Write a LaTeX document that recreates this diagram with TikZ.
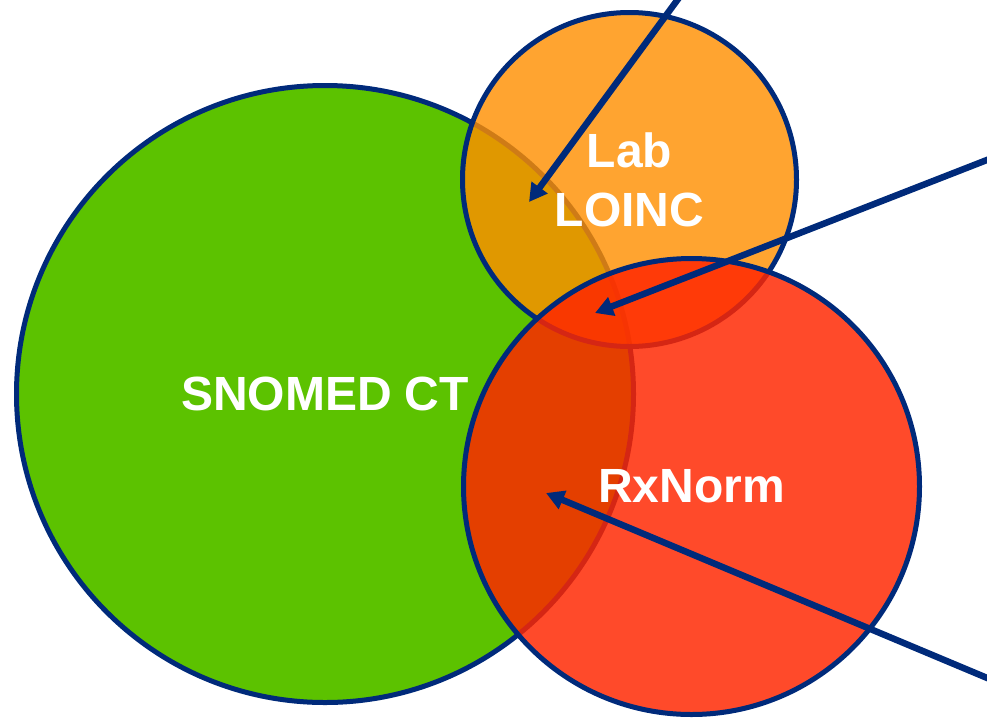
\documentclass[tikz,border=0pt]{standalone}
\usepackage{fontspec}
\setmainfont{Liberation Sans}
\usepackage{tikz}
\usetikzlibrary{positioning,arrows.meta}

\definecolor{navy}{RGB}{0,42,122}
\definecolor{snomedgreen}{RGB}{92,194,0}
\definecolor{loincorange}{RGB}{255,143,0}
\definecolor{rxred}{RGB}{255,38,0}

\tikzset{
	venn/.style={draw=navy, circle, line width=5pt, inner sep=0pt, text=white, text opacity=1, align=center, font=\fontsize{48}{59}\selectfont\bfseries},
	pointer/.style={draw=navy, line width=6.5pt, ->},
}

\begin{document}
\begin{tikzpicture}[x=1pt, y=-1pt, >={Triangle[length=18pt,width=19pt]}]
	\useasboundingbox (0,0) rectangle (987,718);
	\node [venn, fill=snomedgreen, minimum size=617pt] (SNOMED) at (325, 394) {SNOMED CT};
	\node [venn, fill=loincorange, fill opacity=0.81, minimum size=334pt] (LOINC) at (629.5, 179.5) {Lab\\LOINC};
	\node [venn, fill=rxred, fill opacity=0.835, minimum size=456pt] (RXNORM) at (691.5, 486.5) {RxNorm};
	\coordinate (P1s) at (681, -5);
	\coordinate (P1e) at (529, 202);
	\coordinate (P2s) at (992, 158);
	\coordinate (P2e) at (595, 313);
	\coordinate (P3s) at (992, 680);
	\coordinate (P3e) at (546, 493);
	\path [pointer] (P1s) -- (P1e);
	\path [pointer] (P2s) -- (P2e);
	\path [pointer] (P3s) -- (P3e);
\end{tikzpicture}
\end{document}
